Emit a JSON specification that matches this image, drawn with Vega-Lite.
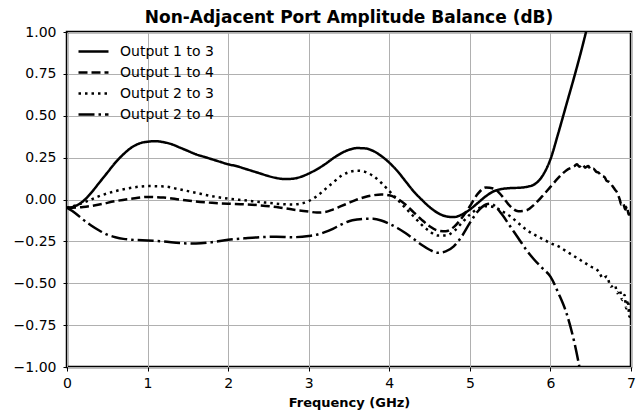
{
  "$schema": "https://vega.github.io/schema/vega-lite/v6.json",
  "width": 564,
  "height": 335,
  "autosize": {"type": "none"},
  "padding": {"left": 67, "top": 32, "right": 10, "bottom": 48},
  "background": "white",
  "title": {"text": "Non-Adjacent Port Amplitude Balance (dB)", "font": "DejaVu Sans", "fontSize": 17, "fontWeight": "bold", "color": "black", "offset": -2},
  "datasets": {
    "s13": [
      [0,-0.05],[0.1,-0.04],[0.2,-0.01],[0.3,0.04],[0.4,0.10],[0.5,0.16],[0.6,0.22],[0.7,0.27],[0.8,0.31],[0.9,0.335],[1.0,0.345],[1.1,0.348],[1.2,0.342],[1.3,0.33],[1.4,0.31],[1.5,0.29],[1.6,0.27],[1.7,0.255],[1.8,0.24],[1.9,0.225],[2.0,0.21],[2.1,0.2],[2.2,0.185],[2.3,0.17],[2.4,0.155],[2.5,0.14],[2.6,0.128],[2.7,0.122],[2.8,0.124],[2.9,0.135],[3.0,0.155],[3.1,0.18],[3.2,0.21],[3.3,0.245],[3.4,0.275],[3.5,0.297],[3.6,0.307],[3.7,0.305],[3.8,0.29],[3.9,0.26],[4.0,0.22],[4.1,0.17],[4.2,0.11],[4.3,0.05],[4.4,0.0],[4.5,-0.045],[4.6,-0.08],[4.7,-0.1],[4.8,-0.105],[4.9,-0.09],[5.0,-0.06],[5.1,-0.02],[5.2,0.02],[5.3,0.05],[5.4,0.063],[5.5,0.068],[5.6,0.07],[5.7,0.075],[5.8,0.09],[5.9,0.14],[6.0,0.24],[6.1,0.4],[6.2,0.57],[6.3,0.74],[6.4,0.92],[6.5,1.12],[6.6,1.35]
    ],
    "s14": [
      [0,-0.05],[0.2,-0.045],[0.4,-0.03],[0.6,-0.01],[0.8,0.005],[1.0,0.015],[1.2,0.012],[1.4,0.0],[1.6,-0.012],[1.8,-0.02],[2.0,-0.025],[2.2,-0.028],[2.4,-0.035],[2.6,-0.045],[2.8,-0.06],[3.0,-0.072],[3.1,-0.078],[3.2,-0.075],[3.3,-0.06],[3.4,-0.04],[3.5,-0.02],[3.6,0.0],[3.7,0.015],[3.8,0.025],[3.9,0.03],[4.0,0.025],[4.1,0.005],[4.2,-0.03],[4.3,-0.075],[4.4,-0.12],[4.5,-0.16],[4.6,-0.185],[4.7,-0.19],[4.8,-0.165],[4.9,-0.11],[5.0,-0.04],[5.1,0.035],[5.2,0.072],[5.3,0.065],[5.4,0.02],[5.5,-0.04],[5.6,-0.07],[5.7,-0.065],[5.8,-0.03],[5.9,0.02],[6.0,0.075],[6.1,0.13],[6.2,0.175],[6.3,0.2],[6.33,0.21],[6.36,0.195],[6.4,0.21],[6.43,0.19],[6.47,0.2],[6.5,0.18],[6.53,0.185],[6.57,0.165],[6.6,0.16],[6.63,0.14],[6.67,0.135],[6.7,0.11],[6.73,0.105],[6.77,0.08],[6.8,0.06],[6.83,0.04],[6.86,0.0],[6.88,-0.03],[6.9,-0.02],[6.93,-0.06],[6.95,-0.04],[6.97,-0.09],[7.0,-0.08]
    ],
    "s23": [
      [0,-0.05],[0.2,-0.02],[0.4,0.02],[0.6,0.05],[0.8,0.07],[1.0,0.08],[1.2,0.078],[1.4,0.06],[1.6,0.04],[1.8,0.02],[2.0,0.005],[2.2,-0.005],[2.4,-0.015],[2.6,-0.025],[2.8,-0.03],[2.9,-0.025],[3.0,-0.01],[3.1,0.02],[3.2,0.06],[3.3,0.1],[3.4,0.14],[3.5,0.163],[3.6,0.172],[3.7,0.165],[3.8,0.14],[3.9,0.1],[4.0,0.05],[4.1,0.0],[4.2,-0.05],[4.3,-0.1],[4.4,-0.15],[4.5,-0.19],[4.6,-0.215],[4.7,-0.215],[4.8,-0.19],[4.9,-0.14],[5.0,-0.09],[5.1,-0.055],[5.2,-0.04],[5.3,-0.045],[5.4,-0.07],[5.5,-0.1],[5.6,-0.14],[5.7,-0.18],[5.8,-0.21],[5.9,-0.235],[6.0,-0.26],[6.1,-0.28],[6.2,-0.31],[6.3,-0.34],[6.4,-0.37],[6.5,-0.4],[6.6,-0.43],[6.65,-0.47],[6.7,-0.46],[6.75,-0.52],[6.8,-0.51],[6.83,-0.56],[6.86,-0.54],[6.89,-0.6],[6.92,-0.57],[6.94,-0.65],[6.96,-0.6],[6.98,-0.7],[7.0,-0.62]
    ],
    "s24": [
      [0,-0.05],[0.1,-0.08],[0.2,-0.12],[0.3,-0.155],[0.4,-0.185],[0.5,-0.21],[0.6,-0.225],[0.7,-0.235],[0.8,-0.24],[1.0,-0.245],[1.2,-0.25],[1.4,-0.26],[1.6,-0.263],[1.8,-0.255],[2.0,-0.24],[2.2,-0.232],[2.4,-0.225],[2.6,-0.222],[2.8,-0.225],[3.0,-0.218],[3.1,-0.21],[3.2,-0.195],[3.3,-0.175],[3.4,-0.15],[3.5,-0.13],[3.6,-0.12],[3.7,-0.115],[3.8,-0.115],[3.9,-0.125],[4.0,-0.145],[4.1,-0.17],[4.2,-0.2],[4.3,-0.235],[4.4,-0.27],[4.5,-0.3],[4.6,-0.318],[4.7,-0.31],[4.8,-0.28],[4.9,-0.22],[5.0,-0.14],[5.1,-0.07],[5.2,-0.03],[5.25,-0.025],[5.3,-0.035],[5.4,-0.09],[5.5,-0.16],[5.6,-0.23],[5.7,-0.3],[5.8,-0.36],[5.9,-0.41],[6.0,-0.46],[6.1,-0.56],[6.2,-0.68],[6.3,-0.86],[6.36,-1.0],[6.4,-1.1]
    ]
  },
  "layer": [
    {"data": {"name": "s13"}, "transform": [{"calculate": "datum[0]", "as": "f"}, {"calculate": "datum[1]", "as": "v"}, {"calculate": "'Output 1 to 3'", "as": "s"}], "mark": {"type": "line", "clip": true, "strokeWidth": 2.5, "color": "black", "interpolate": "monotone"}, "encoding": {"x": {"field": "f", "type": "quantitative"}, "y": {"field": "v", "type": "quantitative"}, "strokeDash": {"field": "s", "type": "nominal"}}},
    {"data": {"name": "s14"}, "transform": [{"calculate": "datum[0]", "as": "f"}, {"calculate": "datum[1]", "as": "v"}, {"calculate": "'Output 1 to 4'", "as": "s"}], "mark": {"type": "line", "clip": true, "strokeWidth": 2.5, "color": "black", "interpolate": "monotone"}, "encoding": {"x": {"field": "f", "type": "quantitative"}, "y": {"field": "v", "type": "quantitative"}, "strokeDash": {"field": "s", "type": "nominal"}}},
    {"data": {"name": "s23"}, "transform": [{"calculate": "datum[0]", "as": "f"}, {"calculate": "datum[1]", "as": "v"}, {"calculate": "'Output 2 to 3'", "as": "s"}], "mark": {"type": "line", "clip": true, "strokeWidth": 2.5, "color": "black", "interpolate": "monotone"}, "encoding": {"x": {"field": "f", "type": "quantitative"}, "y": {"field": "v", "type": "quantitative"}, "strokeDash": {"field": "s", "type": "nominal"}}},
    {"data": {"name": "s24"}, "transform": [{"calculate": "datum[0]", "as": "f"}, {"calculate": "datum[1]", "as": "v"}, {"calculate": "'Output 2 to 4'", "as": "s"}], "mark": {"type": "line", "clip": true, "strokeWidth": 2.5, "color": "black", "interpolate": "monotone"}, "encoding": {"x": {"field": "f", "type": "quantitative"}, "y": {"field": "v", "type": "quantitative"}, "strokeDash": {"field": "s", "type": "nominal"}}}
  ],
  "resolve": {"scale": {"strokeDash": "shared"}},
  "encoding": {
    "x": {"field": "f", "type": "quantitative", "scale": {"domain": [0, 7], "nice": false, "zero": false}, "axis": {"title": "Frequency (GHz)", "values": [0,1,2,3,4,5,6,7], "format": "d", "labelFlush": false}},
    "y": {"field": "v", "type": "quantitative", "scale": {"domain": [-1, 1], "nice": false}, "axis": {"title": null, "values": [-1,-0.75,-0.5,-0.25,0,0.25,0.5,0.75,1], "format": ".2f", "labelFlush": false}},
    "strokeDash": {"field": "s", "type": "nominal", "scale": {"domain": ["Output 1 to 3", "Output 1 to 4", "Output 2 to 3", "Output 2 to 4"], "range": [[1, 0], [9, 4], [2.5, 4], [16, 4, 2.5, 4]]}, "legend": {"title": null, "orient": "none", "legendX": 10, "legendY": 12, "padding": 0, "clipHeight": 15, "rowPadding": 6, "symbolType": "stroke", "symbolSize": 900, "symbolStrokeWidth": 2.5, "symbolStrokeColor": "black", "labelFont": "DejaVu Sans", "labelFontSize": 14, "labelColor": "black", "labelOffset": 10}}
  },
  "config": {
    "view": {"stroke": "black", "strokeWidth": 2.5},
    "axis": {"domain": false, "grid": true, "gridColor": "#b0b0b0", "gridWidth": 1, "tickColor": "black", "tickSize": 4, "tickWidth": 1, "labelFont": "DejaVu Sans", "labelFontSize": 14, "labelColor": "black", "titleFont": "DejaVu Sans", "titleFontSize": 13, "titleFontWeight": "bold", "titleColor": "black", "labelPadding": 5, "titlePadding": 6},
    "axisY": {"labelPadding": 7}
  }
}
